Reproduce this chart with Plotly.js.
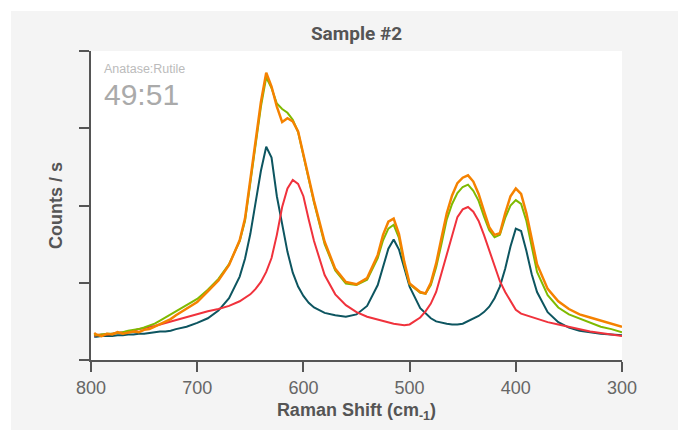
<!DOCTYPE html>
<html>
<head>
<meta charset="utf-8">
<script src="https://cdn.plot.ly/plotly-3.0.1.min.js"></script>
<style>
html,body{margin:0;padding:0;background:#ffffff;}
#chart{position:absolute;left:11px;top:11px;width:667px;height:419px;}
</style>
</head>
<body>
<div id="chart"></div>
<script>
// Raman shift (cm-1)
const shift = [797,795,790,785,780,775,770,765,760,755,750,745,740,735,730,725,720,710,700,690,680,670,660,655,650,645,640,635,630,625,620,615,610,605,600,595,590,580,570,560,550,540,530,525,520,515,510,505,500,490,485,480,475,470,465,460,455,450,445,440,435,430,425,420,415,410,405,400,395,390,385,380,370,360,350,340,330,320,310,300];

// Anatase component (dark teal)
const anatase = [0.30,0.30,0.31,0.31,0.31,0.32,0.32,0.33,0.33,0.34,0.34,0.35,0.36,0.37,0.37,0.38,0.40,0.43,0.48,0.54,0.64,0.80,1.08,1.31,1.63,2.03,2.45,2.76,2.62,2.12,1.74,1.40,1.13,0.95,0.83,0.74,0.68,0.61,0.58,0.56,0.59,0.70,0.97,1.20,1.44,1.56,1.43,1.19,0.95,0.67,0.60,0.54,0.50,0.48,0.47,0.46,0.46,0.47,0.50,0.53,0.57,0.62,0.69,0.80,0.95,1.18,1.47,1.70,1.67,1.41,1.11,0.88,0.62,0.49,0.42,0.38,0.36,0.34,0.33,0.32];

// Rutile component (red)
const rutile = [0.31,0.32,0.33,0.33,0.34,0.35,0.36,0.37,0.38,0.40,0.41,0.43,0.44,0.46,0.48,0.50,0.52,0.56,0.59,0.63,0.66,0.70,0.76,0.80,0.85,0.92,1.01,1.14,1.32,1.62,1.98,2.22,2.33,2.28,2.12,1.82,1.54,1.10,0.85,0.71,0.62,0.56,0.52,0.50,0.48,0.47,0.46,0.45,0.46,0.55,0.63,0.73,0.88,1.12,1.38,1.62,1.85,1.95,1.98,1.92,1.80,1.62,1.42,1.20,1.02,0.88,0.76,0.65,0.60,0.58,0.55,0.53,0.49,0.46,0.43,0.40,0.37,0.35,0.33,0.31];

// Fit (green)
const fit = [0.33,0.32,0.33,0.34,0.34,0.35,0.36,0.38,0.39,0.40,0.42,0.44,0.47,0.51,0.55,0.58,0.62,0.70,0.79,0.91,1.05,1.24,1.54,1.80,2.28,2.78,3.28,3.66,3.52,3.32,3.25,3.20,3.11,2.95,2.64,2.32,2.04,1.50,1.16,0.99,0.97,1.04,1.32,1.55,1.70,1.75,1.58,1.24,0.98,0.87,0.86,0.97,1.20,1.50,1.82,2.02,2.16,2.24,2.27,2.19,2.06,1.86,1.68,1.59,1.62,1.84,2.00,2.07,2.02,1.80,1.45,1.14,0.84,0.68,0.59,0.54,0.48,0.43,0.40,0.36];

// Measured spectrum (orange)
const measured = [0.35,0.33,0.31,0.34,0.33,0.36,0.34,0.36,0.37,0.36,0.39,0.40,0.43,0.46,0.50,0.53,0.58,0.67,0.75,0.89,1.03,1.23,1.55,1.83,2.32,2.84,3.34,3.72,3.54,3.28,3.08,3.13,3.09,2.96,2.66,2.34,2.06,1.53,1.18,1.01,0.98,1.06,1.36,1.62,1.79,1.83,1.63,1.27,0.99,0.88,0.86,1.00,1.25,1.58,1.90,2.13,2.29,2.36,2.39,2.31,2.15,1.93,1.72,1.62,1.64,1.90,2.12,2.22,2.15,1.90,1.55,1.24,0.92,0.76,0.66,0.59,0.55,0.51,0.47,0.43];

const xTicks = [800,700,600,500,400,300];
const yTicks = [0,1,2,3,4];

const titleText = 'Sample #2';
const ratioLabel = 'Anatase:Rutile';
const ratioValue = '49:51';

const series = [
  {name:'Anatase', y:anatase, color:'#0d5560', width:2},
  {name:'Rutile', y:rutile, color:'#f0323c', width:2},
  {name:'Fit', y:fit, color:'#7fba00', width:2},
  {name:'Measured', y:measured, color:'#f58200', width:2.5}
];

const traces = series.map(s => ({
  type:'scatter', mode:'lines', x:shift, y:s.y, name:s.name,
  line:{color:s.color, width:s.width}, hoverinfo:'skip'
}));

const axisColor = '#555555';
const layout = {
  width:667, height:419,
  paper_bgcolor:'#f4f4f4', plot_bgcolor:'#ffffff',
  margin:{l:80, r:56, t:40, b:70},
  showlegend:false,
  font:{family:'Liberation Sans, Arial, sans-serif', color:'#666666'},
  title:{text:'<b>'+titleText+'</b>', x:0.5, xref:'paper', xanchor:'center',
         y:1-22/419, yref:'container', yanchor:'middle',
         font:{family:'Roboto, sans-serif', size:19, color:'#555555'}},
  xaxis:{range:[800,300], tickvals:xTicks, ticktext:xTicks.map(String),
         ticks:'outside', ticklen:10, tickwidth:2, tickcolor:axisColor,
         showline:true, linecolor:axisColor, linewidth:2,
         showgrid:false, zeroline:false,
         tickfont:{size:18, color:'#666666'},
         title:{text:'<b>Raman Shift (cm<sub>-1</sub>)</b>', standoff:7,
                font:{size:18, color:'#555555'}}},
  yaxis:{range:[0,4], tickvals:yTicks, showticklabels:false,
         ticks:'outside', ticklen:10, tickwidth:2, tickcolor:axisColor,
         showline:true, linecolor:axisColor, linewidth:2,
         showgrid:false, zeroline:false,
         title:{text:'<b>Counts / s</b>', standoff:12,
                font:{size:18, color:'#555555'}}},
  annotations:[
    {text:ratioLabel, xref:'paper', yref:'paper', x:0.02, y:1-17.5/309,
     xanchor:'left', yanchor:'middle', showarrow:false,
     font:{size:12.5, color:'#bbbbbb'}},
    {text:ratioValue, xref:'paper', yref:'paper', x:0.02, y:1-43/309,
     xanchor:'left', yanchor:'middle', showarrow:false,
     font:{size:30, color:'#aaaaaa'}}
  ]
};

Plotly.newPlot('chart', traces, layout, {staticPlot:true, displayModeBar:false});
</script>
</body>
</html>
